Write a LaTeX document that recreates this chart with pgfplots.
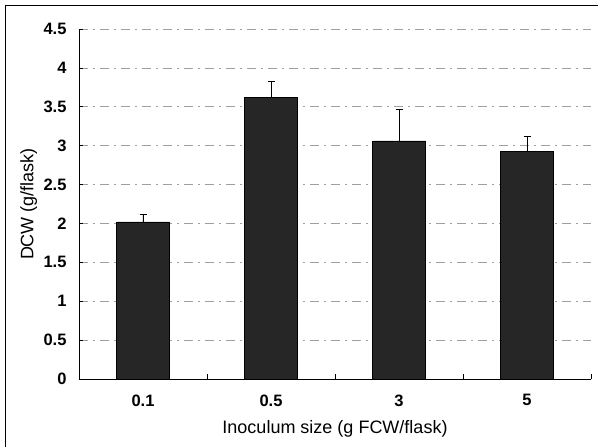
\documentclass[border=0pt]{standalone}
\usepackage{fontspec}
\setmainfont{Liberation Sans}
\usepackage{pgfplots}
\pgfplotsset{compat=1.18}
\begin{document}
\begin{tikzpicture}[x=1pt,y=1pt]
\path[use as bounding box] (0,0) rectangle (598,447);
% outer frame (left and top edges)
\draw[line width=1pt] (5,0) -- (5,441) -- (598,441);
\begin{axis}[
  at={(79pt,68pt)}, anchor=south west,
  scale only axis, width=512pt, height=350pt,
  xmin=-0.5, xmax=3.5, ymin=0, ymax=4.5,
  axis x line*=bottom, axis y line*=left,
  axis line style={black, line width=0.7pt},
  ybar, bar width=53pt,
  xtick={0,1,2,3}, xticklabels={0.1,0.5,3,5},
  major x tick style={draw=none},
  minor xtick={-0.5,0.5,1.5,2.5,3.5},
  minor tick length=5pt, major tick length=4pt,
  tick align=inside,
  tick style={black, line width=0.6pt},
  ytick={0,0.5,...,4.5},
  ymajorgrids,
  grid style={gray!75, line width=0.6pt, dash pattern=on 9pt off 5pt on 2pt off 5pt},
  /pgf/number format/assume math mode=true,
  /pgf/number format/fixed,
  tick label style={font=\bfseries\fontsize{16.5}{18}\selectfont},
  xticklabel style={yshift=-12pt},
  yticklabel style={xshift=-9pt},
  xlabel={Inoculum size (g FCW/flask)},
  ylabel={DCW (g/flask)},
  every axis x label/.style={at={(axis description cs:0.5,-0.142)}, anchor=center,
    font=\fontsize{18}{20}\selectfont},
  every axis y label/.style={at={(axis description cs:-0.098,0.5)}, anchor=center, rotate=90,
    font=\fontsize{18}{20}\selectfont},
]
\addplot[fill=black!85, draw=black, line width=0.6pt,
  error bars/.cd, y dir=plus, y explicit, error mark=|,
  error bar style={black, line width=0.8pt},
  error mark options={black, line width=0.8pt, mark size=3.5pt}]
  coordinates {(0,2.02) +- (0,0.10) (1,3.62) +- (0,0.21) (2,3.06) +- (0,0.40) (3,2.93) +- (0,0.19)};
\end{axis}
\end{tikzpicture}
\end{document}
